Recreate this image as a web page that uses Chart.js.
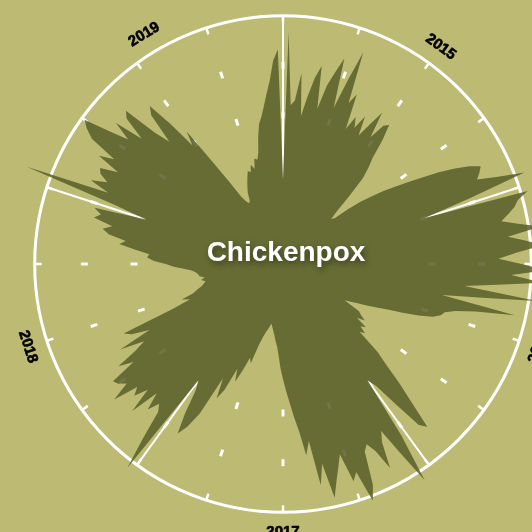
<!DOCTYPE html>
<html>
<head>
<meta charset="utf-8">
<script src="https://cdn.jsdelivr.net/npm/chart.js@4"></script>
<style>
  html, body { margin: 0; padding: 0; width: 532px; height: 532px; overflow: hidden; background: rgb(189, 186, 116); }
  #wrap { position: absolute; left: -15px; top: -34px; width: 596px; height: 596px; }
</style>
</head>
<body>
<div id="wrap"><canvas id="radial" width="596" height="596"></canvas></div>
<script>
// weekly cases, 52 weeks per year, clockwise from the top
const years = ["2015", "2016", "2017", "2018", "2019"];
const cases2015 = [172,468,320,330,386,300,340,380,406,320,370,400,432,330,390,456,350,372,300,330,310,340,300,330,364,310,344,352,320,280,260,236,190,150,132,140,170,200,224,250,274,300,330,364,396,424,444,436,426,464,520,400];
const cases2016 = [300,514,490,480,464,448,480,524,456,490,524,470,434,480,530,460,524,434,368,516,400,326,478,400,360,340,334,320,292,260,230,208,188,170,156,144,180,188,200,184,210,200,216,206,260,290,336,380,438,424,360,310];
const cases2017 = [290,420,520,450,390,410,464,420,400,412,480,510,444,460,400,424,450,482,410,452,360,388,340,310,280,256,232,210,184,166,156,144,136,128,122,132,140,152,170,210,200,230,256,230,280,302,260,344,380,402,360,310];
const cases2018 = [290,516,450,390,376,400,364,424,372,400,384,436,396,410,416,360,390,344,320,370,300,336,350,240,200,216,190,180,170,164,160,168,160,170,172,176,184,200,220,236,260,274,270,300,332,320,356,370,352,392,380,396];
const cases2019 = [290,360,552,380,422,390,410,416,380,430,400,460,480,494,440,400,440,380,430,442,370,336,400,416,360,300,330,250,200,160,146,140,144,160,170,180,190,200,196,210,200,220,216,230,260,286,300,320,344,370,410,432];
// week index where each year label sits
const yearLabelWeek = [26, 78, 130, 182, 237.5];
const gridValues = [300, 400];
const ringValue = 500;

const allCases = [].concat(cases2015, cases2016, cases2017, cases2018, cases2019);
const weekLabels = [];
years.forEach(y => { for (let w = 1; w <= 52; w++) weekLabels.push(y + "-W" + w); });

const decor = {
  id: "decor",
  beforeDatasetsDraw(chart) {
    const s = chart.scales.r;
    const ctx = chart.ctx;
    const p = (i, v) => s.getPointPositionForValue(i, v);
    const seg = (a, b, w) => {
      ctx.lineWidth = w;
      ctx.beginPath();
      ctx.moveTo(a.x, a.y);
      ctx.lineTo(b.x, b.y);
      ctx.stroke();
    };
    ctx.save();
    ctx.strokeStyle = "#fff";
    ctx.lineWidth = 3;
    ctx.beginPath();
    ctx.arc(s.xCenter, s.yCenter, s.getDistanceFromCenterForValue(ringValue), 0, Math.PI * 2);
    ctx.stroke();
    for (let i = 0; i < weekLabels.length; i += 13) {
      seg(p(i, ringValue), p(i, ringValue - 14), 2.5);
      gridValues.forEach(v => seg(p(i, v - 7), p(i, v + 7), 3));
    }
    years.forEach((y, k) => {
      const i = k * 52;
      seg(p(i, k === 0 ? 172 : 290), p(i, ringValue), 2);
    });
    ctx.restore();
  },
  afterDatasetsDraw(chart) {
    const s = chart.scales.r;
    const ctx = chart.ctx;
    ctx.save();
    ctx.fillStyle = "#000";
    ctx.font = "bold 15px 'Liberation Sans', Arial, sans-serif";
    ctx.textAlign = "center";
    ctx.textBaseline = "middle";
    years.forEach((y, k) => {
      const i = yearLabelWeek[k];
      const pt = s.getPointPositionForValue(i, 540);
      let deg = i * 360 / weekLabels.length;
      if (deg > 90 && deg < 270) deg -= 180;
      ctx.save();
      ctx.translate(pt.x, pt.y);
      ctx.rotate(deg * Math.PI / 180);
      ctx.lineWidth = 0.6;
      ctx.strokeStyle = "#000";
      ctx.strokeText(y, 0, 0);
      ctx.fillText(y, 0, 0);
      ctx.restore();
    });
    ctx.font = "bold 28px 'Liberation Sans', Arial, sans-serif";
    ctx.fillStyle = "#fff";
    ctx.shadowColor = "rgba(0,0,0,0.45)";
    ctx.shadowBlur = 6;
    ctx.shadowOffsetX = 2;
    ctx.shadowOffsetY = 3;
    ctx.fillText("Chickenpox", s.xCenter + 3, s.yCenter - 11);
    ctx.restore();
  }
};

new Chart(document.getElementById("radial"), {
  type: "radar",
  data: {
    labels: weekLabels,
    datasets: [{
      label: "Chickenpox cases",
      data: allCases,
      backgroundColor: "rgba(87, 94, 41, 0.85)",
      borderColor: "rgba(87, 94, 41, 0.85)",
      borderWidth: 0,
      pointRadius: 0,
      fill: true,
      tension: 0
    }]
  },
  options: {
    responsive: false,
    animation: false,
    layout: { padding: 0 },
    plugins: { legend: { display: false }, tooltip: { enabled: false } },
    scales: {
      r: {
        min: 0,
        max: 600,
        startAngle: 0,
        angleLines: { display: false },
        grid: { display: false },
        ticks: { display: false },
        pointLabels: { display: false }
      }
    }
  },
  plugins: [decor]
});
</script>
</body>
</html>
